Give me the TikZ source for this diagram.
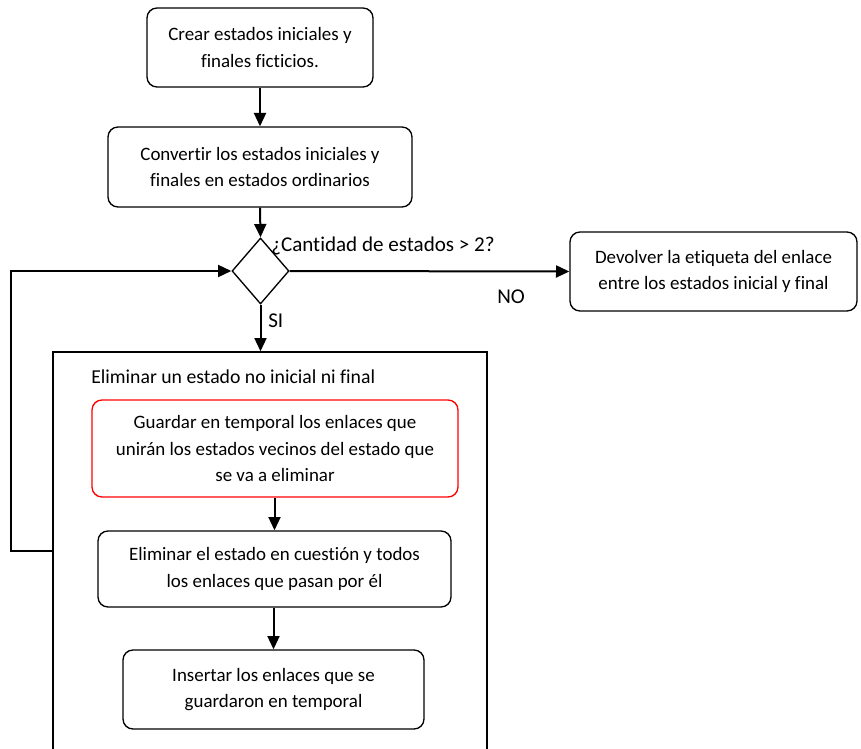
\documentclass[tikz,border=0pt]{standalone}
\usepackage{fontspec}
\setmainfont[Ligatures=NoCommon]{Carlito}
\usetikzlibrary{arrows.meta,shapes.geometric}
\begin{document}
\begin{tikzpicture}[x=0.75pt,y=-0.75pt,
  stepbox/.style={draw, rounded corners=7.5pt, line width=1pt, align=center,
    inner sep=0pt, font=\fontsize{14.2}{20}\selectfont},
  flow/.style={line width=1.5pt, -{Triangle[length=10pt,width=9pt]}},
  lbl/.style={font=\fontsize{15.8}{18}\selectfont, inner sep=0pt}]
\useasboundingbox (0,0) rectangle (861,749);
\clip (0,0) rectangle (861,749);

% process steps
\node[stepbox, minimum width=169.5pt, minimum height=59.25pt] (crear) at (260,47.5)
  {Crear estados iniciales y\\finales ficticios.};
\node[stepbox, minimum width=228pt, minimum height=60pt] (convertir) at (260,167)
  {Convertir los estados iniciales y\\finales en estados ordinarios};
\node[draw, diamond, line width=1pt, inner sep=0pt, minimum width=42.75pt,
  minimum height=49.5pt] (dia) at (260.5,271) {};
\node[stepbox, minimum width=215.25pt, minimum height=59.25pt] (devolver) at (713.5,271.5)
  {Devolver la etiqueta del enlace\\entre los estados inicial y final};

% loop body
\node[draw, line width=1pt, minimum width=325.5pt, minimum height=306pt, inner sep=0pt]
  (bucle) at (270,556) {};
\node[lbl, font=\fontsize{14.8}{18}\selectfont, anchor=base west] (titulo) at (91,383)
  {Eliminar un estado no inicial ni final};
\node[stepbox, draw=red, minimum width=274.5pt, minimum height=72.75pt] (guardar) at (275,448.5)
  {Guardar en temporal los enlaces que\\unirán los estados vecinos del estado que\\se va a eliminar};
\node[stepbox, minimum width=264.75pt, minimum height=57pt] (eliminar) at (274.5,569)
  {Eliminar el estado en cuestión y todos\\los enlaces que pasan por él};
\node[stepbox, minimum width=225.75pt, minimum height=59.25pt] (insertar) at (273.5,689.5)
  {Insertar los enlaces que se\\guardaron en temporal};

% connectors
\draw[flow] (crear.south) -- (convertir.north);
\draw[flow] (convertir.south) -- (dia.north);
\draw[flow] (dia.south) -- (dia.south |- bucle.north);
\draw[flow] (dia.east) -- (devolver.west);
\draw[flow] (eliminar.north |- guardar.south) -- (eliminar.north);
\draw[flow] (insertar.north |- eliminar.south) -- (insertar.north);
\coordinate (retorno) at (bucle.west |- 0,551);
\draw[flow] (retorno) -- (11,551) |- (dia.west);

% labels
\node[lbl, anchor=base west] (pregunta) at (271,251) {¿Cantidad de estados > 2?};
\node[lbl, anchor=base west] (no) at (497,303) {NO};
\node[lbl, anchor=base west] (si) at (268,327) {SI};
\end{tikzpicture}
\end{document}
